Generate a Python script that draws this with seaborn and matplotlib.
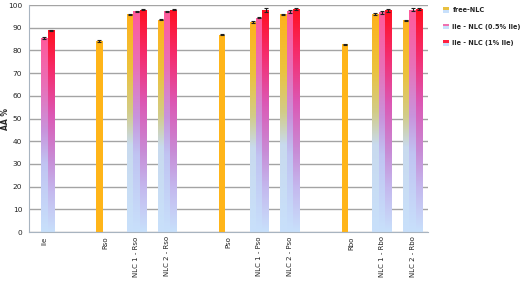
import numpy as np
import pandas as pd
import matplotlib
matplotlib.use("Agg")
import matplotlib.pyplot as plt
import seaborn as sns
from matplotlib.colors import LinearSegmentedColormap
from matplotlib.patches import Rectangle
from matplotlib.legend_handler import HandlerBase

# categories on the x axis (blank ones are the gaps between groups)
categories = ["Ile", " ", "Rso", "NLC 1 - Rso", "NLC 2 - Rso", "  ",
              "Pso", "NLC 1 - Pso", "NLC 2 - Pso", "   ",
              "Rbo", "NLC 1 - Rbo", "NLC 2 - Rbo"]
series = ["free-NLC", "Ile - NLC (0.5% Ile)", "Ile - NLC (1% Ile)"]

# values (None = no bar)
free_nlc = [None, None, 84.2, 95.9, 93.6, None, 86.9, 92.5, 95.9, None, 82.7, 96.0, 93.2]
ile_05 = [85.5, None, None, 97.2, 97.2, None, None, 94.4, 97.2, None, None, 96.8, 98.0]
ile_1 = [88.9, None, None, 98.0, 98.0, None, None, 98.0, 98.4, None, None, 97.7, 98.2]
err_free = [0, 0, 0.3, 0.3, 0.3, 0, 0.3, 0.3, 0.3, 0, 0.3, 0.3, 0.3]
err_05 = [0.3, 0, 0, 0.3, 0.3, 0, 0, 0.3, 0.6, 0, 0, 0.7, 0.5]
err_1 = [0.3, 0, 0, 0.3, 0.3, 0, 0, 0.9, 0.5, 0, 0, 0.6, 0.5]

rows = []
for vals, errs, s in [(free_nlc, err_free, series[0]), (ile_05, err_05, series[1]), (ile_1, err_1, series[2])]:
    for c, v, e in zip(categories, vals, errs):
        if v is not None:
            rows.append({"sample": c, "series": s, "AA": v, "err": e})
df = pd.DataFrame(rows)

sns.set_style("white")
plt.rcParams["font.family"] = ["DejaVu Sans"]

fig = plt.figure(figsize=(5.2, 2.81), dpi=100)
ax = fig.add_axes([0.056, 0.174, 0.767, 0.808])

base = ["#ffb21c", "#ff5a9a", "#ff1525"]
sns.barplot(data=df, x="sample", y="AA", hue="series", order=categories,
            hue_order=series, palette=base, width=0.63, errorbar=None,
            legend=False, ax=ax)

light = "#c8e0fb"
cmaps = {
    series[0]: LinearSegmentedColormap.from_list("f", [(0, light), (0.4, "#c8daee"), (0.55, "#d2cc88"),
                                                      (0.75, "#ecc23c"), (1, "#ffb21c")]),
    series[1]: LinearSegmentedColormap.from_list("p", [(0, light), (0.35, "#c0c4f2"), (0.52, "#c894dc"),
                                                      (0.75, "#e870b8"), (1, "#ff5a9a")]),
    series[2]: LinearSegmentedColormap.from_list("r", [(0, light), (0.2, "#c4b8ee"), (0.36, "#c88cd6"),
                                                      (0.58, "#dc58b4"), (0.8, "#f52c6c"), (1, "#ff1020")]),
}
solo = df.groupby("sample")["series"].count()
grad = np.linspace(0, 1, 256).reshape(-1, 1)

for s, cont in zip(series, ax.containers):
    for bar in cont:
        h = bar.get_height()
        if not np.isfinite(h) or h <= 0:
            continue
        x0, w = bar.get_x(), bar.get_width()
        ci = int(round(x0 + w / 2))
        cat = categories[ci]
        row = df[(df["sample"] == cat) & (df["series"] == s)].iloc[0]
        if s == series[0] and solo[cat] == 1:
            bar.set_facecolor("#ffb519")
        else:
            bar.set_facecolor("none")
            im = ax.imshow(grad, cmap=cmaps[s], origin="lower", aspect="auto",
                           extent=[x0, x0 + w, 0, h], zorder=bar.get_zorder())
            im.set_clip_path(bar)
        bar.set_edgecolor("none")
        ax.errorbar(x0 + w / 2, h, yerr=row["err"], fmt="none", ecolor="#202020",
                    elinewidth=0.8, capsize=1.6, capthick=0.8, zorder=5)

ax.set_xlim(-0.5, len(categories) - 0.5)
ax.set_ylim(0, 100)
ax.set_yticks(range(0, 101, 10))
ax.yaxis.grid(True, color="#a4a4a4", lw=1)
ax.set_axisbelow(True)
for sp in ["top", "right"]:
    ax.spines[sp].set_visible(False)
ax.spines["left"].set_color("#a8b4c0")
ax.spines["bottom"].set_color("#a8b4c0")
ax.set_xticks(np.arange(-0.5, len(categories), 1), minor=True)
ax.tick_params(axis="x", which="major", length=0, labelsize=5, rotation=90, pad=3, labelcolor="#222222")
ax.tick_params(axis="x", which="minor", length=3, color="#a8b4c0", width=0.8)
ax.tick_params(axis="y", length=3, color="#a8b4c0", labelsize=5.3, pad=2, labelcolor="#222222")
ax.set_xlabel("")
ax.set_ylabel("AA %", fontsize=5.5, fontweight="bold")
ax.yaxis.set_label_coords(-0.048, 0.5)


class TwoToneHandler(HandlerBase):
    def __init__(self, top):
        super().__init__()
        self.top = top

    def create_artists(self, legend, orig_handle, xdescent, ydescent, width, height, fontsize, trans):
        lower = Rectangle((-xdescent, -ydescent), width, height * 0.5, facecolor=light, transform=trans, lw=0)
        upper = Rectangle((-xdescent, -ydescent + height * 0.5), width, height * 0.5, facecolor=self.top,
                          transform=trans, lw=0)
        return [lower, upper]


handles = [Rectangle((0, 0), 1, 1) for _ in series]
tops = ["#e8c040", "#f070b0", "#ff2040"]
fig.legend(handles, series, loc="upper left", bbox_to_anchor=(0.84, 0.995), frameon=False,
           prop={"size": 4.7, "weight": "bold"}, handlelength=0.9, handleheight=0.9,
           handletextpad=0.6, labelspacing=1.6,
           handler_map={h: TwoToneHandler(t) for h, t in zip(handles, tops)})

fig.savefig("out.png", dpi=100)
